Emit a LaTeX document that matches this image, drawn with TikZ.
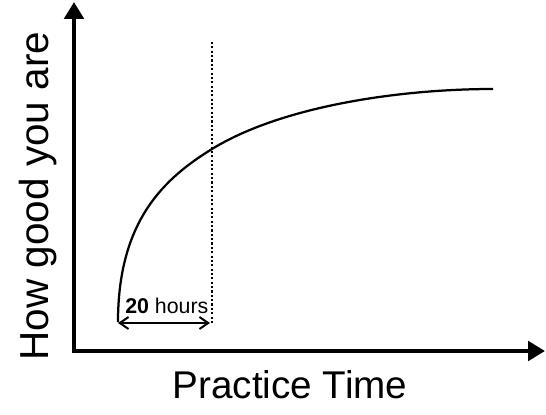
\documentclass[tikz,border=0pt]{standalone}
\usepackage{fontspec}
\setmainfont{Liberation Sans}
\usetikzlibrary{arrows.meta}

\begin{document}
\begin{tikzpicture}
\useasboundingbox (0,0) rectangle (13.65,10.35);

% axes
\coordinate (O) at (1.85,1.575);
\coordinate (ytop) at (1.85,10.3);
\coordinate (xend) at (13.625,1.575);
\draw[line width=2.9pt, {Triangle[width=0.48cm,length=0.42cm]}-{Triangle[width=0.48cm,length=0.42cm]}] (ytop)--(O)--(xend);

\node[anchor=base, font=\fontsize{27.5}{30}\selectfont] (xlabel) at (7.25,0.4) {Practice Time};
\node[anchor=base, rotate=90, font=\fontsize{28.8}{31}\selectfont] (ylabel) at (1.2,5.45) {How good you are};

% learning curve
\coordinate (c0) at (2.95,2.3);
\coordinate (c1) at (5.3,6.625);
\coordinate (c2) at (12.325,8.125);
\draw[line width=1.6pt] (c0) .. controls (2.95,4.85) and (4.125,5.9) .. (c1)
    .. controls (7.05,7.7) and (10.0,8.125) .. (c2);

% 20 hours mark
\coordinate (dtop) at (5.3,9.3);
\coordinate (dbot) at (5.3,2.225);
\draw[line width=1.5pt, dash pattern=on 1.5pt off 1.6pt] (dtop)--(dbot);

\coordinate (a0) at (2.95,2.275);
\coordinate (a1) at (5.25,2.275);
\draw[line width=1.4pt, {Straight Barb[length=0.22cm,width=0.3cm]}-{Straight Barb[length=0.22cm,width=0.3cm]}] (a0)--(a1);
\node[anchor=base west, inner sep=0pt, font=\fontsize{15.2}{17}\selectfont] (hours) at (3.125,2.525) {\textbf{20} hours};

\end{tikzpicture}
\end{document}
